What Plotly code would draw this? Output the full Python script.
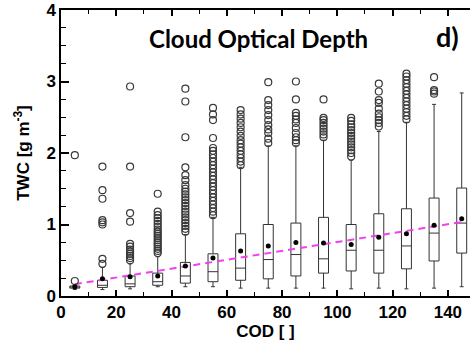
import plotly.graph_objects as go

# Box-plot statistics of total water content (TWC) binned by cloud optical depth (COD)
cod_bins = [5, 15, 25, 35, 45, 55, 65, 75, 85, 95, 105, 115, 125, 135, 145]
lower_whisker = [0.09, 0.09, 0.10, 0.13, 0.13, 0.13, 0.11, 0.11, 0.11, 0.11, 0.10, 0.11, 0.10, 0.11, 0.13]
q1 = [0.11, 0.12, 0.13, 0.15, 0.18, 0.20, 0.22, 0.24, 0.28, 0.32, 0.35, 0.32, 0.38, 0.49, 0.60]
median = [0.12, 0.15, 0.17, 0.20, 0.28, 0.34, 0.39, 0.51, 0.58, 0.52, 0.64, 0.64, 0.70, 0.88, 1.02]
q3 = [0.14, 0.22, 0.28, 0.32, 0.47, 0.59, 0.87, 1.00, 1.02, 1.10, 1.00, 1.15, 1.22, 1.37, 1.51]
upper_whisker = [0.15, 0.40, 0.45, 0.55, 0.86, 1.10, 1.80, 2.10, 2.10, 2.18, 1.90, 2.30, 2.43, 2.68, 2.84]
mean = [0.13, 0.24, 0.27, 0.28, 0.42, 0.53, 0.63, 0.70, 0.75, 0.74, 0.72, 0.82, 0.87, 0.99, 1.08]

outliers = {
    5: [0.21, 1.97],
    15: [0.45, 0.52, 1.00, 1.03, 1.06, 1.36, 1.48, 1.81],
    25: [0.50, 0.53, 0.56, 0.59, 0.62, 0.65, 0.69, 0.73, 1.04, 1.16, 1.81, 2.93],
    35: [0.60, 0.63, 0.66, 0.69, 0.72, 0.75, 0.78, 0.81, 0.84, 0.87, 0.90, 0.93,
         0.97, 1.01, 1.05, 1.09, 1.13, 1.18, 1.43],
    45: [0.90, 0.94, 0.98, 1.02, 1.06, 1.10, 1.14, 1.18, 1.22, 1.26, 1.30, 1.34,
         1.38, 1.42, 1.46, 1.50, 1.55, 1.62, 1.69, 1.80, 2.22, 2.72, 2.90],
    55: [1.13, 1.18, 1.23, 1.28, 1.33, 1.38, 1.43, 1.48, 1.53, 1.58, 1.63, 1.68,
         1.73, 1.78, 1.83, 1.88, 1.93, 1.98, 2.03, 2.07, 2.21, 2.46, 2.54, 2.63],
    65: [1.83, 1.88, 1.93, 1.98, 2.03, 2.08, 2.13, 2.18, 2.24, 2.30, 2.36, 2.42,
         2.48, 2.54, 2.60],
    75: [2.14, 2.20, 2.28, 2.33, 2.39, 2.46, 2.53, 2.60, 2.67, 2.74, 2.99],
    85: [2.14, 2.18, 2.22, 2.28, 2.35, 2.42, 2.47, 2.52, 2.56, 2.75, 3.00],
    95: [2.22, 2.26, 2.30, 2.34, 2.38, 2.42, 2.46, 2.49, 2.75],
    105: [1.95, 2.00, 2.04, 2.08, 2.12, 2.16, 2.20, 2.24, 2.28, 2.32, 2.36, 2.40,
          2.45, 2.49],
    115: [2.37, 2.42, 2.46, 2.50, 2.55, 2.62, 2.70, 2.74, 2.86, 2.97],
    125: [2.47, 2.52, 2.57, 2.62, 2.67, 2.72, 2.77, 2.82, 2.87, 2.92, 2.97, 3.02,
          3.07, 3.11],
    135: [2.83, 2.86, 2.88, 3.06],
    145: [],
}

# Linear fit of TWC against COD (end points of the fitted segment)
fit_cod = [5, 145]
fit_twc = [0.165, 1.035]

x_ticks = [0, 20, 40, 60, 80, 100, 120, 140]
y_ticks = [0, 1, 2, 3, 4]

out_x = [c for c in cod_bins for _ in outliers[c]]
out_y = [v for c in cod_bins for v in outliers[c]]

fig = go.Figure()

fig.add_trace(go.Box(
    x=cod_bins, q1=q1, median=median, q3=q3,
    lowerfence=lower_whisker, upperfence=upper_whisker,
    width=3.6, whiskerwidth=0.4, boxpoints=False,
    line=dict(color="#333333", width=1),
    fillcolor="rgba(255,255,255,0)",
    showlegend=False,
))

fig.add_trace(go.Scatter(
    x=fit_cod, y=fit_twc, mode="lines",
    line=dict(color="#f040f0", width=2, dash="7px,5px"),
    showlegend=False,
))

fig.add_trace(go.Scatter(
    x=out_x, y=out_y, mode="markers",
    marker=dict(symbol="circle-open", size=7, color="#3a3a3a", line=dict(width=1.2)),
    showlegend=False,
))

fig.add_trace(go.Scatter(
    x=cod_bins, y=mean, mode="markers",
    marker=dict(symbol="circle", size=5, color="black"),
    showlegend=False,
))

axis_font = dict(family="Liberation Sans, Arial, sans-serif", size=17, color="black", weight="bold")

fig.update_xaxes(
    range=[0, 148], tickvals=x_ticks, ticktext=[str(t) for t in x_ticks],
    ticks="inside", ticklen=6, tickwidth=1.5, tickcolor="black",
    minor=dict(ticks="inside", ticklen=4, dtick=10, tick0=0, tickcolor="black", tickwidth=1.2),
    showline=True, linecolor="black", linewidth=1.5, mirror="ticks",
    showgrid=False, zeroline=False,
    tickfont=axis_font,
    title=dict(text="COD [ ]", font=axis_font, standoff=4),
)

fig.update_yaxes(
    range=[0, 4], tickvals=y_ticks, ticktext=[str(t) for t in y_ticks],
    ticks="inside", ticklen=8, tickwidth=1.5, tickcolor="black",
    minor=dict(ticks="inside", ticklen=5, dtick=0.25, tick0=0, tickcolor="black", tickwidth=1.2),
    showline=True, linecolor="black", linewidth=1.5, mirror=False,
    showgrid=False, zeroline=False,
    tickfont=axis_font,
    title=dict(text="TWC [g m<sup>-3</sup>]", font=axis_font, standoff=12),
)

fig.add_annotation(
    text="Cloud Optical Depth", xref="paper", yref="paper", x=0.484, y=0.902,
    showarrow=False, xanchor="center", yanchor="middle",
    font=dict(family="Lato, sans-serif", size=24, color="black", weight="bold"),
)
fig.add_annotation(
    text="d)", xref="paper", yref="paper", x=0.944, y=0.906,
    showarrow=False, xanchor="center", yanchor="middle",
    font=dict(family="Lato, sans-serif", size=27, color="black", weight="bold"),
)

fig.update_layout(
    width=470, height=343,
    margin=dict(l=61, r=0, t=10, b=47),
    paper_bgcolor="white", plot_bgcolor="white",
    showlegend=False,
)

fig.write_html("out.html")
